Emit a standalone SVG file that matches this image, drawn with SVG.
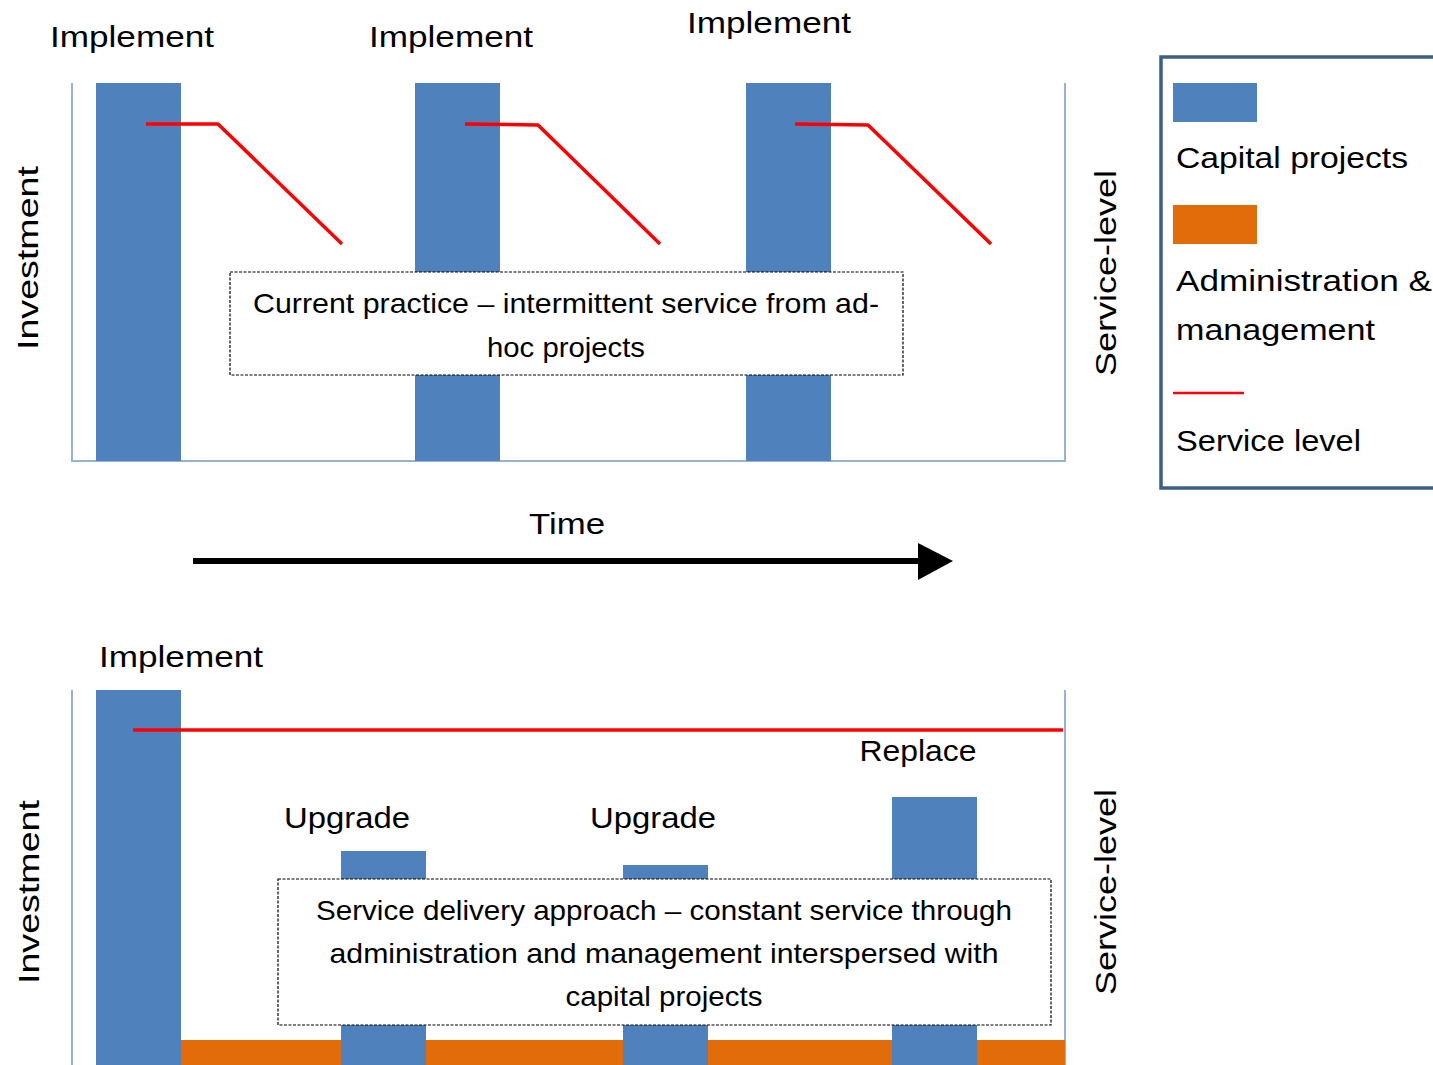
<svg xmlns="http://www.w3.org/2000/svg" width="1433" height="1065" viewBox="0 0 1433 1065">
<style>
text{font-family:"Liberation Sans",Arial,sans-serif;fill:#000}
.lbl{font-size:29px}
.box{font-size:28px}
.axis{stroke:#95b3d7;stroke-width:2;fill:none}
.bar{fill:#4f81bd}
.adm{fill:#e36c0a}
.sl{stroke:#ff0000;stroke-width:3.5;fill:none;stroke-linejoin:round}
.dash{fill:#fff;stroke:#000;stroke-width:1.2;stroke-dasharray:3,1.5}
</style>
<rect width="1433" height="1065" fill="#fff"/>
<g id="top-chart">
<path class="axis" d="M72,83V461H1065V83"/>
<rect class="bar" x="96" y="83" width="85" height="378"/>
<rect class="bar" x="415" y="83" width="85" height="378"/>
<rect class="bar" x="746" y="83" width="85" height="378"/>
<text class="lbl" x="132" y="47" text-anchor="middle" textLength="164" lengthAdjust="spacingAndGlyphs">Implement</text>
<text class="lbl" x="451" y="47" text-anchor="middle" textLength="164" lengthAdjust="spacingAndGlyphs">Implement</text>
<text class="lbl" x="769" y="33" text-anchor="middle" textLength="164" lengthAdjust="spacingAndGlyphs">Implement</text>
<text class="lbl" transform="translate(38,258) rotate(-90)" text-anchor="middle" textLength="184" lengthAdjust="spacingAndGlyphs">Investment</text>
<text class="lbl" transform="translate(1116,273) rotate(-90)" text-anchor="middle" textLength="206" lengthAdjust="spacingAndGlyphs">Service-level</text>
</g>
<g id="top-service-lines">
<polyline class="sl" points="146,124 218,124 342,244"/>
<polyline class="sl" points="465,124 538,125 660,244"/>
<polyline class="sl" points="795,124 868,125 991,244"/>
</g>
<g id="top-note">
<rect class="dash" x="230" y="272" width="673" height="103"/>
<text class="box" x="566" y="313" text-anchor="middle" textLength="626" lengthAdjust="spacingAndGlyphs">Current practice – intermittent service from ad-</text>
<text class="box" x="566" y="357" text-anchor="middle" textLength="158" lengthAdjust="spacingAndGlyphs">hoc projects</text>
</g>
<g id="time-axis">
<text class="lbl" x="567" y="534" text-anchor="middle" textLength="76" lengthAdjust="spacingAndGlyphs">Time</text>
<line x1="193" y1="561" x2="920" y2="561" stroke="#000" stroke-width="6"/>
<polygon points="918,543 953,561 918,580" fill="#000"/>
</g>
<g id="legend">
<rect x="1161" y="57" width="290" height="431" fill="#fff" stroke="#3b5e8c" stroke-width="3.5"/>
<rect class="bar" x="1173" y="83" width="84" height="39"/>
<text class="lbl" x="1176" y="168" textLength="232" lengthAdjust="spacingAndGlyphs">Capital projects</text>
<rect class="adm" x="1173" y="205" width="84" height="39"/>
<text class="lbl" x="1176" y="291" textLength="256" lengthAdjust="spacingAndGlyphs">Administration &amp;</text>
<text class="lbl" x="1176" y="340" textLength="199" lengthAdjust="spacingAndGlyphs">management</text>
<line x1="1173" y1="393" x2="1244" y2="393" stroke="#ff0000" stroke-width="2.5"/>
<text class="lbl" x="1176" y="451" textLength="185" lengthAdjust="spacingAndGlyphs">Service level</text>
</g>
<g id="bottom-chart">
<path class="axis" d="M72,690V1065M1065,690V1065"/>
<rect class="bar" x="96" y="690" width="85" height="375"/>
<rect class="adm" x="181" y="1040" width="884" height="25"/>
<rect class="bar" x="341" y="851" width="85" height="214"/>
<rect class="bar" x="623" y="865" width="85" height="200"/>
<rect class="bar" x="892" y="797" width="85" height="268"/>
<text class="lbl" x="181" y="667" text-anchor="middle" textLength="164" lengthAdjust="spacingAndGlyphs">Implement</text>
<text class="lbl" x="347" y="828" text-anchor="middle" textLength="126" lengthAdjust="spacingAndGlyphs">Upgrade</text>
<text class="lbl" x="653" y="828" text-anchor="middle" textLength="126" lengthAdjust="spacingAndGlyphs">Upgrade</text>
<text class="lbl" x="918" y="761" text-anchor="middle" textLength="117" lengthAdjust="spacingAndGlyphs">Replace</text>
<text class="lbl" transform="translate(39,892) rotate(-90)" text-anchor="middle" textLength="184" lengthAdjust="spacingAndGlyphs">Investment</text>
<text class="lbl" transform="translate(1116,892) rotate(-90)" text-anchor="middle" textLength="206" lengthAdjust="spacingAndGlyphs">Service-level</text>
</g>
<g id="bottom-service-line">
<line class="sl" x1="133" y1="730" x2="1063" y2="730"/>
</g>
<g id="bottom-note">
<rect class="dash" x="278" y="879" width="773" height="146"/>
<text class="box" x="664" y="920" text-anchor="middle" textLength="696" lengthAdjust="spacingAndGlyphs">Service delivery approach – constant service through</text>
<text class="box" x="664" y="963" text-anchor="middle" textLength="669" lengthAdjust="spacingAndGlyphs">administration and management interspersed with</text>
<text class="box" x="664" y="1006" text-anchor="middle" textLength="197" lengthAdjust="spacingAndGlyphs">capital projects</text>
</g>
</svg>
